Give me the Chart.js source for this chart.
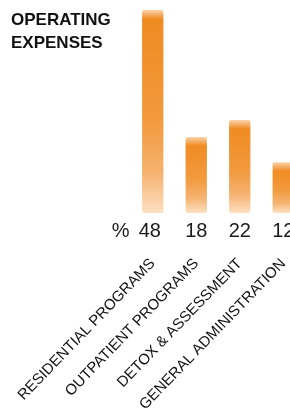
<!DOCTYPE html>
<html>
<head>
<meta charset="utf-8">
<script src="https://cdn.jsdelivr.net/npm/chart.js@4"></script>
<style>
  html, body { margin: 0; padding: 0; background: #fff; width: 290px; height: 415px; overflow: hidden; }
  #wrap { position: relative; width: 310px; height: 425px; }
  #title {
    position: absolute; left: 11px; top: 8px;
    font: bold 17px "Liberation Sans", Arial, sans-serif;
    line-height: 23px; color: #111;
  }
</style>
</head>
<body>
<div id="wrap">
  <canvas id="chart" width="310" height="425"></canvas>
  <div id="title">OPERATING<br>EXPENSES</div>
</div>
<script>
// データ
let categories = ['RESIDENTIAL PROGRAMS', 'OUTPATIENT PROGRAMS', 'DETOX & ASSESSMENT', 'GENERAL ADMINISTRATION'];
let percentValues = [48, 18, 22, 12];
let unitLabel = '%';

// バーのグラデーション
function barGradient(context) {
    let chart = context.chart;
    if (!chart.chartArea) return '#f08a22';
    let yScale = chart.scales.y;
    let top = yScale.getPixelForValue(context.raw);
    let bottom = yScale.getPixelForValue(0);
    let h = Math.max(bottom - top, 1);
    let g = chart.ctx.createLinearGradient(0, top, 0, bottom);
    g.addColorStop(0, '#fcd5aa');
    g.addColorStop(Math.min(4 / h, 0.2), '#f6b16e');
    g.addColorStop(Math.min(9 / h, 0.3), '#f08b22');
    g.addColorStop(0.55, '#f29a3e');
    g.addColorStop(0.8, '#f5b26f');
    g.addColorStop(1, '#fde0c2');
    return g;
}

// 数値ラベル（バーの下）
const valueLabels = {
    id: 'valueLabels',
    afterDraw(chart) {
        let ctx = chart.ctx;
        let meta = chart.getDatasetMeta(0);
        let y = chart.chartArea.bottom + 18;
        ctx.save();
        ctx.font = '20px "Liberation Sans", Arial, sans-serif';
        ctx.fillStyle = '#1a1a1a';
        ctx.textAlign = 'center';
        ctx.textBaseline = 'middle';
        meta.data.forEach((bar, i) => {
            let dx = i === 0 ? -3 : 0;
            ctx.fillText(String(percentValues[i]), bar.x + dx, y);
        });
        ctx.fillText(unitLabel, meta.data[0].x - 32, y);
        ctx.restore();
    }
};

let ctx = document.getElementById('chart').getContext('2d');
let chart = new Chart(ctx, {
    type: 'bar',
    data: {
        labels: categories,
        datasets: [{
            data: percentValues,
            backgroundColor: barGradient,
            borderRadius: 2,
            borderSkipped: false,
            categoryPercentage: 1,
            barPercentage: 0.49
        }]
    },
    options: {
        responsive: false,
        animation: false,
        layout: { padding: { left: 131, right: 5, top: 10, bottom: 9 } },
        plugins: {
            legend: { display: false },
            tooltip: { enabled: false }
        },
        scales: {
            x: {
                grid: { display: false, drawTicks: false },
                border: { display: false },
                afterFit(scale) {
                    // 回転ラベルによる自動余白を無効化
                    scale.paddingLeft = 0;
                    scale.paddingRight = 0;
                },
                ticks: {
                    minRotation: 46,
                    maxRotation: 46,
                    padding: 42,
                    color: '#111',
                    font: { family: '"Liberation Sans", Arial, sans-serif', size: 15 }
                }
            },
            y: {
                display: false,
                min: 0,
                max: 48
            }
        }
    },
    plugins: [valueLabels]
});
</script>
</body>
</html>
